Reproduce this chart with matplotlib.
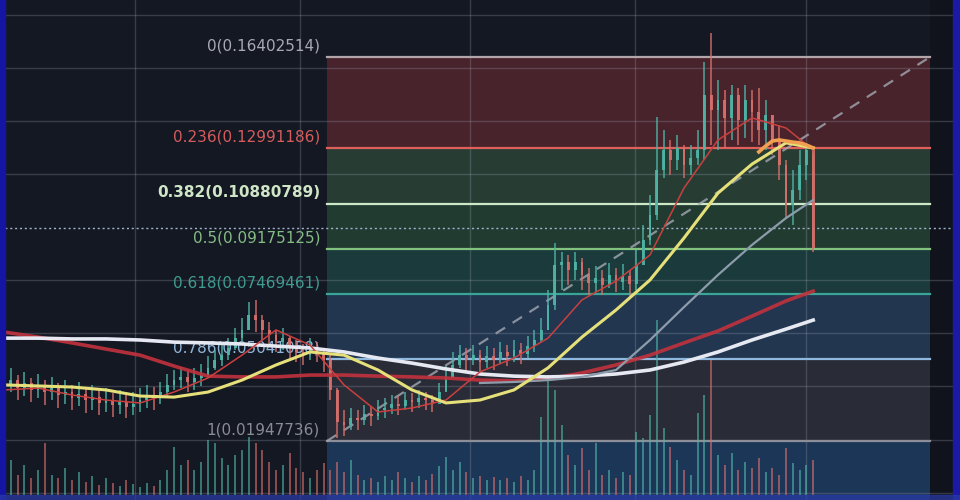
import numpy as np
import matplotlib
matplotlib.use("Agg")
import matplotlib.pyplot as plt
from matplotlib.patches import Rectangle

# ---------------- data ----------------
fib_ratios = [0, 0.236, 0.382, 0.5, 0.618, 0.786, 1]
fib_prices = [0.16402514, 0.12991186, 0.10880789, 0.09175125,
              0.07469461, 0.05041058, 0.01947736]
fib_labels = ["0(0.16402514)", "0.236(0.12991186)", "0.382(0.10880789)",
              "0.5(0.09175125)", "0.618(0.07469461)", "0.786(0.05041058)",
              "1(0.01947736)"]

close = [0.0406, 0.0424, 0.0394, 0.0413, 0.0387, 0.0402, 0.0379, 0.0394, 0.0368, 0.0379,
         0.0357, 0.0372, 0.0349, 0.0360, 0.0338, 0.0349, 0.0330, 0.0342, 0.0323, 0.0334,
         0.0349, 0.0364, 0.0357, 0.0379, 0.0406, 0.0424, 0.0436, 0.0417, 0.0432, 0.0443,
         0.0470, 0.0500, 0.0518, 0.0545, 0.0582, 0.0613, 0.0669, 0.0650, 0.0613, 0.0594,
         0.0567, 0.0582, 0.0545, 0.0530, 0.0518, 0.0545, 0.0530, 0.0500, 0.0387, 0.0266,
         0.0255, 0.0281, 0.0274, 0.0296, 0.0289, 0.0311, 0.0319, 0.0334, 0.0326, 0.0349,
         0.0342, 0.0357, 0.0349, 0.0334, 0.0379, 0.0432, 0.0481, 0.0518, 0.0500, 0.0518,
         0.0492, 0.0515, 0.0500, 0.0530, 0.0515, 0.0537, 0.0522, 0.0552, 0.0575, 0.0613,
         0.0707, 0.0857, 0.0869, 0.0838, 0.0869, 0.0820, 0.0790, 0.0808, 0.0782, 0.0820,
         0.0793, 0.0816, 0.0786, 0.0857, 0.0951, 0.1046, 0.1215, 0.1290, 0.1253, 0.1298,
         0.1234, 0.1260, 0.1290, 0.1497, 0.1441, 0.1478, 0.1411, 0.1497, 0.1403, 0.1478,
         0.1433, 0.1365, 0.1422, 0.1328, 0.1234, 0.1083, 0.1140, 0.1234, 0.1290, 0.0921]

high = [0.0455, 0.0470, 0.0443, 0.0455, 0.0432, 0.0447, 0.0424, 0.0436, 0.0413, 0.0424,
        0.0406, 0.0417, 0.0398, 0.0406, 0.0387, 0.0394, 0.0375, 0.0387, 0.0368, 0.0379,
        0.0394, 0.0406, 0.0398, 0.0417, 0.0447, 0.0462, 0.0473, 0.0462, 0.0470, 0.0485,
        0.0515, 0.0537, 0.0564, 0.0582, 0.0620, 0.0658, 0.0718, 0.0726, 0.0669, 0.0643,
        0.0613, 0.0620, 0.0590, 0.0575, 0.0560, 0.0582, 0.0567, 0.0545, 0.0518, 0.0394,
        0.0311, 0.0319, 0.0311, 0.0330, 0.0326, 0.0349, 0.0357, 0.0368, 0.0364, 0.0379,
        0.0375, 0.0387, 0.0379, 0.0368, 0.0413, 0.0477, 0.0530, 0.0556, 0.0545, 0.0556,
        0.0537, 0.0552, 0.0545, 0.0567, 0.0556, 0.0575, 0.0564, 0.0590, 0.0613, 0.0658,
        0.0763, 0.0940, 0.0906, 0.0895, 0.0906, 0.0884, 0.0846, 0.0854, 0.0838, 0.0865,
        0.0846, 0.0861, 0.0838, 0.0914, 0.1008, 0.1121, 0.1414, 0.1365, 0.1328, 0.1347,
        0.1309, 0.1309, 0.1365, 0.1621, 0.1731, 0.1554, 0.1516, 0.1535, 0.1524, 0.1535,
        0.1516, 0.1524, 0.1478, 0.1422, 0.1384, 0.1253, 0.1215, 0.1290, 0.1309, 0.1271]

low = [0.0357, 0.0379, 0.0349, 0.0364, 0.0342, 0.0357, 0.0330, 0.0349, 0.0319, 0.0334,
       0.0311, 0.0326, 0.0300, 0.0311, 0.0293, 0.0304, 0.0285, 0.0296, 0.0281, 0.0293,
       0.0304, 0.0319, 0.0311, 0.0334, 0.0364, 0.0387, 0.0394, 0.0379, 0.0387, 0.0402,
       0.0432, 0.0462, 0.0477, 0.0500, 0.0537, 0.0567, 0.0613, 0.0605, 0.0575, 0.0556,
       0.0530, 0.0537, 0.0507, 0.0492, 0.0481, 0.0500, 0.0492, 0.0455, 0.0349, 0.0206,
       0.0214, 0.0236, 0.0236, 0.0255, 0.0251, 0.0274, 0.0281, 0.0296, 0.0293, 0.0311,
       0.0304, 0.0319, 0.0311, 0.0304, 0.0342, 0.0387, 0.0432, 0.0470, 0.0455, 0.0481,
       0.0455, 0.0470, 0.0462, 0.0485, 0.0477, 0.0492, 0.0485, 0.0507, 0.0530, 0.0567,
       0.0613, 0.0688, 0.0763, 0.0782, 0.0801, 0.0763, 0.0744, 0.0756, 0.0744, 0.0771,
       0.0756, 0.0763, 0.0741, 0.0763, 0.0869, 0.0933, 0.1027, 0.1185, 0.1196, 0.1215,
       0.1185, 0.1196, 0.1234, 0.1253, 0.1309, 0.1290, 0.1297, 0.1328, 0.1309, 0.1335,
       0.1320, 0.1309, 0.1290, 0.1271, 0.1177, 0.1034, 0.1008, 0.1102, 0.1177, 0.0906]

volume_m = [2.5, 3.5, 2.0, 3.0, 1.7, 2.5, 5.2, 2.0, 1.7, 2.7,
            1.5, 2.3, 1.3, 1.9, 1.0, 1.7, 1.2, 0.9, 1.5, 1.1,
            0.8, 1.2, 0.9, 1.5, 2.5, 4.8, 3.0, 3.5, 2.5, 3.3,
            5.5, 5.2, 3.7, 3.0, 4.0, 4.5, 5.8, 5.2, 4.5, 3.3,
            2.5, 3.0, 4.2, 2.7, 2.3, 1.7, 2.5, 3.2, 2.5, 3.3,
            2.3, 3.5, 2.0, 1.5, 1.7, 1.3, 1.9, 1.5, 2.3, 1.7,
            1.3, 1.9, 1.5, 2.1, 2.9, 3.8, 2.5, 3.3, 2.3, 1.7,
            1.9, 1.5, 1.8, 1.5, 1.7, 1.3, 1.9, 1.5, 2.5, 7.8,
            12.0, 10.5, 7.0, 4.0, 3.0, 4.7, 2.5, 5.2, 2.0, 2.5,
            1.7, 2.3, 2.0, 6.3, 5.7, 8.0, 17.5, 6.7, 4.8, 3.5,
            2.5, 2.0, 8.2, 10.0, 13.5, 4.0, 3.0, 4.2, 2.5, 3.3,
            2.7, 3.7, 2.3, 2.7, 2.0, 4.7, 3.2, 2.5, 3.0, 3.5]

ma_idx = [0, 5, 10, 15, 20, 25, 30, 35, 40, 45, 50, 55, 60, 65, 70, 75, 80, 85,
          90, 95, 100, 105, 110, 115, 119]
ma_white = [0.0582, 0.0582, 0.0579, 0.0579, 0.0575, 0.0567, 0.0564, 0.0560, 0.0552,
            0.0545, 0.0530, 0.0507, 0.0488, 0.0466, 0.0447, 0.0439, 0.0436, 0.0439,
            0.0447, 0.0462, 0.0492, 0.0530, 0.0575, 0.0616, 0.0650]
ma_red = [0.0605, 0.0586, 0.0564, 0.0541, 0.0518, 0.0477, 0.0439, 0.0436, 0.0436,
          0.0443, 0.0443, 0.0439, 0.0436, 0.0432, 0.0424, 0.0421, 0.0428, 0.0451,
          0.0481, 0.0518, 0.0564, 0.0609, 0.0665, 0.0722, 0.0759]
ma_yellow = [0.0406, 0.0402, 0.0398, 0.0387, 0.0364, 0.0360, 0.0379, 0.0424, 0.0481,
             0.0530, 0.0518, 0.0462, 0.0387, 0.0338, 0.0349, 0.0387, 0.0470, 0.0586,
             0.0688, 0.0801, 0.0959, 0.1128, 0.1237, 0.1317, 0.1298]
ma_fast = [0.0387, 0.0394, 0.0368, 0.0349, 0.0338, 0.0379, 0.0432, 0.0518, 0.0613,
           0.0556, 0.0406, 0.0304, 0.0319, 0.0349, 0.0455, 0.0507, 0.0582, 0.0726,
           0.0797, 0.0895, 0.1147, 0.1328, 0.1411, 0.1373, 0.1290]
grey_idx = [70, 75, 80, 85, 90, 95, 100, 105, 110, 115, 119]
ma_grey = [0.0413, 0.0417, 0.0424, 0.0436, 0.0462, 0.0575, 0.0699, 0.0820, 0.0933,
           0.1034, 0.1102]
orange_idx = [111, 112, 113, 114, 115, 116, 117, 118, 119]
ma_orange = [0.1283, 0.1305, 0.1324, 0.1328, 0.1324, 0.1320, 0.1317, 0.1309, 0.1298]

last_price = 0.0997

# ---------------- layout ----------------
W, H = 960, 500
BAR_PX = 6.8
X0_PX = 4.0
FIB_TOP_PX, FIB_BOT_PX = 57.0, 441.0

px_per_price = (FIB_BOT_PX - FIB_TOP_PX) / (fib_prices[0] - fib_prices[-1])
y_top = fib_prices[0] + FIB_TOP_PX / px_per_price
y_bot = fib_prices[0] - (H - FIB_TOP_PX) / px_per_price
x_left = -X0_PX / BAR_PX
x_right = (W - X0_PX) / BAR_PX


def px2bar(px):
    return (px - X0_PX) / BAR_PX


BG = "#141823"
fig = plt.figure(figsize=(9.6, 5.0), dpi=100, facecolor=BG)

ax_bg = fig.add_axes([0, 0, 1, 1], zorder=0)
ax_vol = fig.add_axes([0, 0, 1, 1], zorder=1)
ax = fig.add_axes([0, 0, 1, 1], zorder=2)
for a in (ax_bg, ax_vol, ax):
    a.set_xlim(x_left, x_right)
    a.axis("off")
ax_bg.set_ylim(y_bot, y_top)
ax.set_ylim(y_bot, y_top)
ax_bg.set_facecolor(BG)
ax_bg.patch.set_visible(True)
ax_bg.axis("on")
for s in ax_bg.spines.values():
    s.set_visible(False)
ax_bg.set_xticks([])
ax_bg.set_yticks([])
ax_vol.patch.set_visible(False)
ax.patch.set_visible(False)

# fib zones
box_l, box_r = px2bar(327), px2bar(930)
zone_colors = ["#48232b", "#273d34", "#223b31", "#1a3a3b", "#223650", "#292b36"]
for i, c in enumerate(zone_colors):
    ax_bg.fill_between([box_l, box_r], fib_prices[i + 1], fib_prices[i],
                       color=c, lw=0, zorder=1)
ax_bg.fill_between([box_l, box_r], y_bot, fib_prices[-1], color="#1c3658", lw=0, zorder=1)
ax_bg.fill_between([box_r, x_right], y_bot, y_top, color="#10131c", lw=0, zorder=1)

# grid
for gx in [135, 300, 470, 635, 806]:
    ax_bg.axvline(px2bar(gx), color="#9aa0ad", alpha=0.28, lw=1, zorder=2)
for gy in [0.18, 0.16, 0.14, 0.12, 0.08, 0.06, 0.04, 0.02, 0.0]:
    ax_bg.axhline(gy, color="#9aa0ad", alpha=0.28, lw=1, zorder=2)

# fib lines and labels
line_colors = ["#b3a6aa", "#e0605c", "#cde8c6", "#82c27f", "#3aa596", "#8fb8de", "#8c8f98"]
label_colors = ["#a9a9b3", "#d65c5c", "#cfe6c7", "#84bd84", "#3f9c90", "#8fb6da", "#8a8c94"]
for p, lc, tc, lab in zip(fib_prices, line_colors, fib_labels, label_colors and fib_labels):
    pass
for p, lc, tc, lab in zip(fib_prices, line_colors, label_colors, fib_labels):
    ax_bg.plot([box_l, box_r], [p, p], color=lc, lw=1.6, zorder=3)
    ax_bg.text(px2bar(320), p + 11 / px_per_price, lab, color=tc, fontsize=11,
               ha="right", va="center", zorder=4,
               fontweight="bold" if lab.startswith("0.382") else "normal")

# current price dotted line
ax_bg.axhline(last_price, color="#9fb2cc", lw=1, ls=(0, (1.5, 2)), zorder=3)

# volume
n = len(close)
xs = np.arange(n)
c_arr = np.array(close)
o_arr = np.r_[c_arr[0], c_arr[:-1]]
up = c_arr >= o_arr
UP, DOWN = "#4fb5a7", "#d8706c"
cols = np.where(up, UP, DOWN)
ax_vol.set_ylim(-0.5, 49.5)
ax_vol.bar(xs, volume_m, width=0.32, color=cols, alpha=0.6, lw=0)

# diagonal dashed trend line
ax.plot([box_l, box_r], [fib_prices[-1], fib_prices[0]], color="#a3a8b2",
        lw=1.6, ls=(0, (5, 4)), alpha=0.8, zorder=2)

# candles
ax.vlines(xs, low, high, colors=cols, lw=1.1, alpha=0.9, zorder=3)
ax.bar(xs, np.abs(c_arr - o_arr), bottom=np.minimum(c_arr, o_arr), width=0.42,
       color=cols, lw=0, alpha=0.9, zorder=3)

# moving averages
ax.plot(ma_idx, ma_red, color="#c2323d", lw=2.6, alpha=0.9, zorder=4)
ax.plot(ma_idx, ma_white, color="#e6e8f2", lw=2.6, zorder=4)
ax.plot(grey_idx, ma_grey, color="#8d9cab", lw=1.6, zorder=4)
ax.plot(ma_idx, ma_fast, color="#c9403f", lw=1.1, zorder=4)
ax.plot(ma_idx, ma_yellow, color="#e6e07a", lw=2.2, zorder=5)
ax.plot(orange_idx, ma_orange, color="#f0a050", lw=2.6, zorder=5)

# screen border stripes (photo of monitor)
fig.patches.append(Rectangle((0, 0), 5 / W, 1, transform=fig.transFigure,
                             color="#1515a3", zorder=10))
fig.patches.append(Rectangle((953 / W, 0), 7 / W, 1, transform=fig.transFigure,
                             color="#1a1aa6", zorder=10))
fig.patches.append(Rectangle((0, 0), 1, 5 / H, transform=fig.transFigure,
                             color="#2a3aa8", alpha=0.7, zorder=10))

fig.savefig("out.png", dpi=100, facecolor=BG)
